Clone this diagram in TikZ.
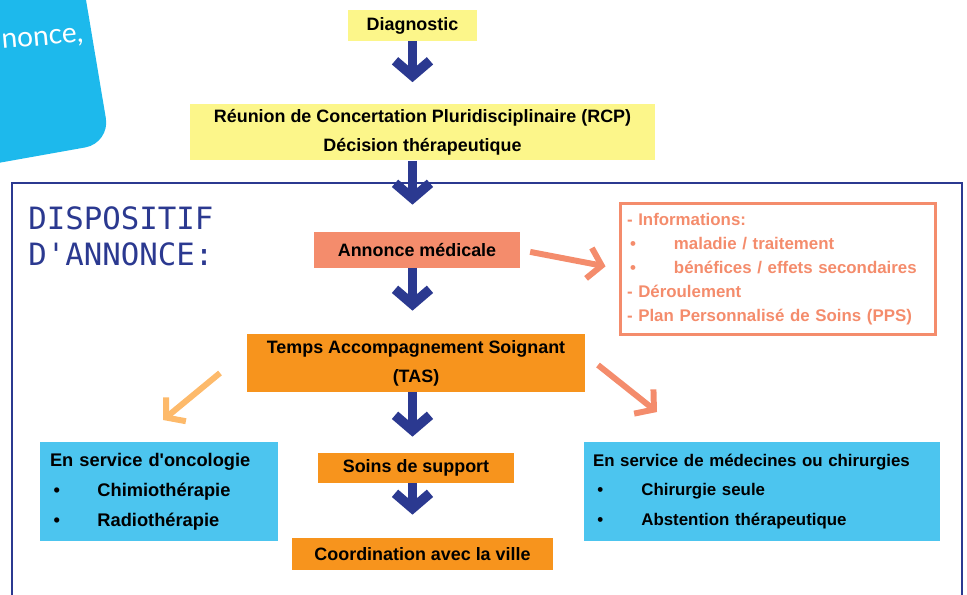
\documentclass[tikz,border=0pt]{standalone}
\usepackage{fontspec}
\setmainfont{Liberation Sans}
\newfontfamily\handfont{DejaVu Sans Mono}
\newfontfamily\tabfont{Lato}
\usetikzlibrary{arrows.meta}

\definecolor{navyline}{HTML}{2B3990}
\definecolor{salmon}{HTML}{F48C6C}
\definecolor{orangebox}{HTML}{F7941D}
\definecolor{lightorange}{HTML}{FDBA6B}
\definecolor{paleyellow}{HTML}{FCF68A}
\definecolor{skybox}{HTML}{4CC5EF}
\definecolor{tabblue}{HTML}{1DB9EC}

\newcommand{\listdot}[2]{\hspace*{#1}\makebox[25pt][l]{\textbullet}#2}

\begin{document}
\begin{tikzpicture}[x=0.02cm, y=-0.02cm,
  box/.style={inner sep=0pt, align=center, font=\fontsize{10.2}{16.5}\selectfont\bfseries},
  listbox/.style={inner ysep=0pt, align=left, font=\fontsize{10}{17}\selectfont\bfseries},
  downarrow/.style={draw=navyline, line width=5.5pt, -{Straight Barb[length=0.3cm, width=0.7cm]}},
  sidearrow/.style={line width=3.4pt, -{Straight Barb[length=0.26cm, width=0.62cm]}}
]
  \useasboundingbox (0,0) rectangle (967,595);

  % Blue tab, top left
  \fill[tabblue, rounded corners=0.5cm] (-30,-30) -- (81,-30) -- (110,143) -- (-30,168) -- cycle;
  \node[text=white, font=\tabfont\fontsize{16}{16}\selectfont, rotate=5, anchor=base west, inner sep=0pt] (tabtext) at (2,49) {nonce,};

  % Frame of the announcement part
  \draw[navyline, line width=1.2pt] (12,600) -- (12,183) -- (962,183) -- (962,600);
  \node[anchor=north west, text=navyline, font=\handfont\fontsize{17.5}{20.5}\selectfont, align=left, inner sep=0pt] (title) at (28,206) {DISPOSITIF\\D'ANNONCE:};

  % Main chain
  \node[box, fill=paleyellow, minimum width=2.58cm, minimum height=0.62cm] (diag) at (412.5,25.5) {Diagnostic};
  \node[box, fill=paleyellow, minimum width=9.3cm, minimum height=1.14cm] (rcp) at (422.5,132)
    {R\'eunion de Concertation Pluridisciplinaire (RCP)\\D\'ecision th\'erapeutique};
  \node[box, fill=salmon, minimum width=4.12cm, minimum height=0.72cm] (annonce) at (417,250) {Annonce m\'edicale};
  \node[box, fill=orangebox, minimum width=6.76cm, minimum height=1.16cm] (tas) at (416,363)
    {Temps Accompagnement Soignant\\(TAS)};
  \node[box, fill=orangebox, minimum width=3.92cm, minimum height=0.6cm] (sos) at (416,468) {Soins de support};
  \node[box, fill=orangebox, minimum width=5.22cm, minimum height=0.64cm] (coord) at (422.5,554) {Coordination avec la ville};

  % Information box
  \node[listbox, draw=salmon, line width=1.4pt, text=salmon, text width=6.04cm, inner xsep=0.13cm,
    minimum height=2.62cm, font=\fontsize{9.6}{13.6}\selectfont\bfseries] (info) at (778,269)
    {- Informations:\\
     \listdot{1.7pt}{maladie / traitement}\\
     \listdot{1.7pt}{b\'en\'efices / effets secondaires}\\
     - D\'eroulement\\
     - Plan Personnalis\'e de Soins (PPS)};

  % Services
  \node[listbox, fill=skybox, text width=4.36cm, inner xsep=0.2cm, minimum height=1.98cm,
    font=\fontsize{10.4}{17}\selectfont\bfseries] (onco) at (159,491.5)
    {En service d\textquotesingle oncologie\\
     \listdot{2pt}{Chimioth\'erapie}\\
     \listdot{2pt}{Radioth\'erapie}};
  \node[listbox, fill=skybox, text width=6.76cm, inner xsep=0.18cm, minimum height=1.98cm,
    font=\fontsize{9.6}{17}\selectfont\bfseries] (med) at (762,491.5)
    {En service de m\'edecines ou chirurgies\\
     \listdot{2.5pt}{Chirurgie seule}\\
     \listdot{2.5pt}{Abstention th\'erapeutique}};

  % Arrows
  \draw[downarrow, shorten >=0.42cm] (diag.south) -- (diag.south |- rcp.north);
  \draw[downarrow, shorten >=0.54cm] (diag.south |- rcp.south) -- (diag.south |- annonce.north);
  \draw[downarrow, shorten >=0.46cm] (diag.south |- annonce.south) -- (diag.south |- tas.north);
  \draw[downarrow, shorten >=0.32cm] (diag.south |- tas.south) -- (diag.south |- sos.north);
  \draw[downarrow, shorten >=0.46cm] (diag.south |- sos.south) -- (diag.south |- coord.north);

  \draw[sidearrow, draw=salmon, shorten <=0.2cm, shorten >=0.28cm] (annonce.east) -- (info.west);
  \coordinate (tasleft) at (220,373);
  \coordinate (oncotop) at (163,420);
  \draw[sidearrow, draw=lightorange] (tasleft) -- (oncotop);
  \coordinate (tasright) at (598,365);
  \coordinate (medtop) at (657,412);
  \draw[sidearrow, draw=salmon] (tasright) -- (medtop);
\end{tikzpicture}
\end{document}
